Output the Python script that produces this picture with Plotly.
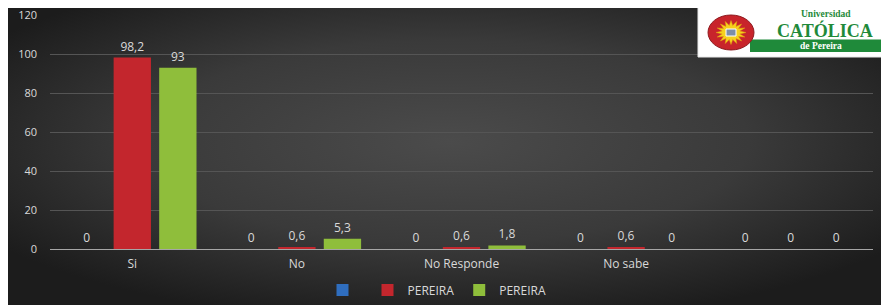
import plotly.graph_objects as go
import urllib.parse
import math

categories = ["Si", "No", "No Responde", "No sabe", ""]
series_names = ["", "PEREIRA", "PEREIRA"]
blue_values = [0, 0, 0, 0, 0]
red_values = [98.2, 0.6, 0.6, 0.6, 0]
green_values = [93, 5.3, 1.8, 0, 0]
y_ticks = [0, 20, 40, 60, 80, 100, 120]

OFF = 8  # default page body margin
W, H = 881, 297
L, R, T, B = 42, 16, 7, 56
PW, PH = W - L - R, H - T - B


def px(x):
    # page pixel -> paper coordinate
    return (x - OFF - L) / PW


def py(y):
    return (H - B - (y - OFF)) / PH


def fmt(v):
    s = ("%g" % v)
    return s.replace(".", ",")


fig = go.Figure()
colors = ["#2f6ebf", "#c3262d", "#8fbe3b"]
for name, vals, c in zip(series_names, [blue_values, red_values, green_values], colors):
    fig.add_trace(go.Bar(
        x=categories, y=vals, name=name,
        marker=dict(color=c, line=dict(width=0)),
        text=[fmt(v) for v in vals], textposition="outside",
        textfont=dict(color="#d9d9d9", size=12, family="Open Sans"),
        cliponaxis=False,
    ))

# gradient background as svg
svg = ('<svg xmlns="http://www.w3.org/2000/svg" width="881" height="297" viewBox="0 0 881 297" preserveAspectRatio="none">'
       '<defs><radialGradient id="g" cx="50%" cy="45%" r="62%">'
       '<stop offset="0" stop-color="#4b4b4b"/><stop offset="0.55" stop-color="#3a3a3a"/>'
       '<stop offset="1" stop-color="#1c1c1c"/></radialGradient></defs>'
       '<rect width="881" height="297" fill="url(#g)"/></svg>')
src = "data:image/svg+xml;charset=utf-8," + urllib.parse.quote(svg)
fig.add_layout_image(dict(source=src, xref="paper", yref="paper",
                          x=px(OFF), y=py(OFF), sizex=px(OFF + W) - px(OFF), sizey=py(OFF) - py(OFF + H),
                          xanchor="left", yanchor="top", sizing="stretch", layer="below"))

shapes = []
# logo box
shapes.append(dict(type="rect", xref="paper", yref="paper", x0=px(698), x1=px(892), y0=py(57), y1=py(6),
                   fillcolor="white", line=dict(color="#e8e8e8", width=1), layer="above"))
shapes.append(dict(type="rect", xref="paper", yref="paper", x0=px(750), x1=px(883), y0=py(52), y1=py(39.5),
                   fillcolor="#1f8a3a", line=dict(width=0), layer="above"))
shapes.append(dict(type="circle", xref="paper", yref="paper", x0=px(708), x1=px(754), y0=py(50), y1=py(15),
                   fillcolor="#c8242b", line=dict(color="#8e1a1f", width=1), layer="above"))
# sun star
cx, cy = 731, 32.5
pts = []
n = 16
for i in range(2 * n):
    r = 15 if i % 2 == 0 else 9
    a = math.pi * i / n
    pts.append((cx + r * math.cos(a), cy + r * math.sin(a) * 0.8))
path = "M " + " L ".join("%f,%f" % (px(x), py(y)) for x, y in pts) + " Z"
shapes.append(dict(type="path", xref="paper", yref="paper", path=path,
                   fillcolor="#f6d21c", line=dict(color="#e0a010", width=0.5), layer="above"))
shapes.append(dict(type="rect", xref="paper", yref="paper", x0=px(726), x1=px(736), y0=py(36), y1=py(29),
                   fillcolor="#7d8fa8", line=dict(color="#ffffff", width=1), layer="above"))

annotations = [
    dict(text="<b>Universidad</b>", x=px(826), y=py(14), xref="paper", yref="paper", showarrow=False,
         xanchor="center", yanchor="middle",
         font=dict(family="Liberation Serif", size=9.5, color="#1f8a3a"), borderpad=0),
    dict(text="<b>CATÓLICA</b>", x=px(825), y=py(30.5), xref="paper", yref="paper", showarrow=False,
         xanchor="center", yanchor="middle",
         font=dict(family="Liberation Serif", size=18, color="#1f8a3a"), borderpad=0),
    dict(text="<b>de Pereira</b>", x=px(821), y=py(46.5), xref="paper", yref="paper", showarrow=False,
         xanchor="center", yanchor="middle",
         font=dict(family="Liberation Serif", size=9.5, color="white"), borderpad=0),
]

fig.update_layout(
    width=W, height=H,
    margin=dict(l=L, r=R, t=T, b=B, autoexpand=False),
    paper_bgcolor="#2a2a2a", plot_bgcolor="rgba(0,0,0,0)",
    barmode="group", bargap=0.17, bargroupgap=0.18,
    shapes=shapes, annotations=annotations,
    font=dict(family="Open Sans", size=11, color="#d9d9d9"),
    legend=dict(orientation="h", x=px(437), xanchor="center", y=py(290), yanchor="middle",
                bgcolor="rgba(0,0,0,0)",
                font=dict(color="#d9d9d9", size=12), itemwidth=30, traceorder="normal"),
    showlegend=True,
)
fig.update_xaxes(showgrid=False, showline=True, linecolor="#a6a6a6", linewidth=1, automargin=False,
                 tickfont=dict(color="#d9d9d9", size=12), ticks="", ticklabelstandoff=4)
fig.update_yaxes(range=[0, 120], tickvals=y_ticks, showgrid=True, gridcolor="#555555", gridwidth=1,
                 zeroline=False, automargin=False, tickfont=dict(color="#d9d9d9", size=11),
                 ticklabelstandoff=12, ticklabeloverflow="allow")

fig.write_html("out.html")
